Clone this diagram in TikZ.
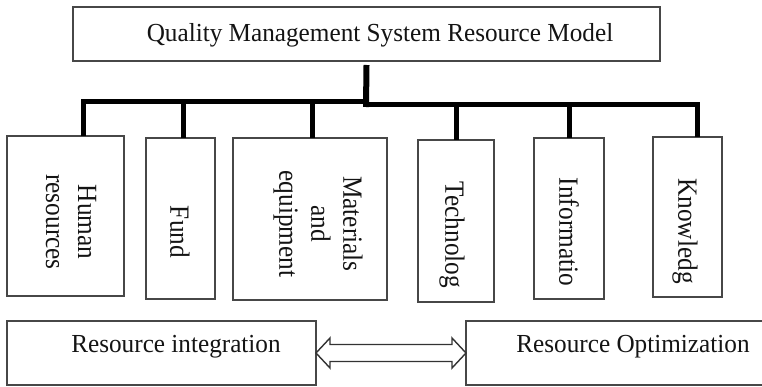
\documentclass[tikz,border=0pt]{standalone}
\usepackage{fontspec}
\setmainfont[FakeStretch=0.97]{Liberation Serif}
\newfontfamily\sidefont[FakeStretch=0.91]{Liberation Serif}
\usetikzlibrary{calc}
\begin{document}
\begin{tikzpicture}[x=1pt,y=-1pt,
  box/.style={draw=black!72,line width=1.6pt,rectangle,inner sep=0pt,outer sep=0pt,anchor=north west},
  txt/.style={font=\fontsize{26}{30}\selectfont,inner sep=0pt,text=black!92},
  vtxt/.style={font=\sidefont\fontsize{27.8}{32}\selectfont,inner sep=0pt,text=black!92,rotate=-90,align=center},
  bar/.style={line width=5pt,black,line join=miter},
  trunk/.style={line width=6pt,black},
  dblarrow/.style={draw=black!80,line width=1.4pt,fill=white,line join=miter}]
\useasboundingbox (0,0) rectangle (762,387);

% top box
\node[box,minimum width=587pt,minimum height=54pt] (top) at (73,7) {};
\node[txt] (toplbl) at (380,35) {Quality Management System Resource Model};

% resource boxes
\node[box,minimum width=117pt,minimum height=160pt] (hr) at (7,136) {};
\node[box,minimum width=69pt,minimum height=161pt] (fund) at (146,138) {};
\node[box,minimum width=154pt,minimum height=162pt] (mat) at (233,138) {};
\node[box,minimum width=76pt,minimum height=162pt] (tech) at (418,140) {};
\node[box,minimum width=70pt,minimum height=161pt] (info) at (534,138) {};
\node[box,minimum width=69pt,minimum height=160pt] (know) at (653,137) {};

\node[vtxt] (hrl) at (71,222) {Human\\resources};
\node[vtxt] (fundl) at (180,232) {Fund};
\node[vtxt] (matl) at (318,224) {Materials\\and\\equipment};
\node[vtxt] (techl) at (452,235) {Technolog};
\node[vtxt] (infol) at (569,232) {Informatio};
\node[vtxt] (knowl) at (685,231) {Knowledg};

% tree connectors
\coordinate (jl) at (366,102);
\coordinate (jr) at (366,105);
\draw[trunk] ($(top.south)+(0,4)$) -- ($(jr)+(0,2)$);
\draw[bar] ($(hr.north)+(17.5,0)$) |- (jl);
\draw[bar] ($(fund.north)+(2.5,0)$) |- (jl);
\draw[bar] ($(mat.north)+(2,0)$) |- (jl);
\draw[bar] (tech.north) |- (jr);
\draw[bar] (info.north) |- (jr);
\draw[bar] ($(know.north)+(9.5,0)$) |- (jr);

% bottom boxes
\node[box,minimum width=309pt,minimum height=64pt] (integ) at (7,321) {};
\node[box,minimum width=320pt,minimum height=64pt] (optim) at (466,321) {};
\node[txt] (integl) at (176,347) {Resource integration};
\node[txt] (optiml) at (633,347) {Resource Optimization};

% double arrow between the bottom boxes
\draw[dblarrow] (integ.east) -- ++(14,-15) -- ++(0,6.5) -- ++(122,0) -- ++(0,-6.5)
  -- (optim.west) -- ++(-14,15) -- ++(0,-6.5) -- ++(-122,0) -- ++(0,6.5) -- cycle;
\end{tikzpicture}
\end{document}
